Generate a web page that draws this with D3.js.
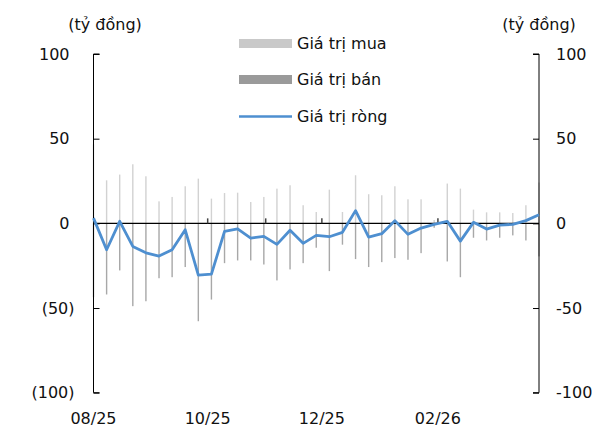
<!DOCTYPE html>
<html>
<head>
<meta charset="utf-8">
<script src="https://cdn.jsdelivr.net/npm/d3@7"></script>
<style>
  body { margin: 0; background: #fff; }
  text { font-family: "DejaVu Sans", Verdana, sans-serif; font-size: 16px; fill: #111; }
</style>
</head>
<body>
<div class="canvas"></div>
<script>
// weekly data, first week 01/08/2025
let startDate = '2025-08-01'
let weeks = 35

let buy = [46.7, 25.4, 28.8, 34.9, 27.8, 13.0, 15.6, 21.9, 26.4, 14.6, 17.9, 18.1, 12.6, 15.6, 20.5, 22.5, 10.7, 6.7,
    19.9, 6.7, 28.4, 17.2, 16.6, 21.9, 14.2, 14.2, 2.0, 23.5, 20.5, 8.1, 6.5, 6.5, 6.1, 10.7, 24.1]
let sell = [-43.6, -42.0, -27.8, -48.9, -46.0, -32.4, -31.8, -25.8, -57.8, -45.0, -23.5, -21.9, -21.9, -24.3, -33.7, -27.2, -23.5, -14.4,
    -28.2, -12.6, -21.1, -25.8, -22.9, -20.5, -21.5, -17.6, -2.6, -22.5, -31.8, -8.5, -10.1, -8.5, -7.1, -10.1, -19.5]
let net = [3.1, -15.6, 1.2, -13.6, -17.4, -19.3, -15.6, -3.8, -30.6, -30.0, -4.7, -3.2, -8.7, -7.7, -12.4, -4.1, -11.8, -7.1,
    -7.9, -5.3, 7.5, -8.1, -6.1, 1.6, -6.5, -2.8, -0.6, 1.2, -10.5, 0.6, -3.4, -1.0, -0.6, 1.6, 5.1]

let yTicks = [100, 50, 0, -50, -100]
let xLabelDates = ['2025-08-01', '2025-10-01', '2025-12-01', '2026-02-01']
let xTickDates = ['2025-10-01', '2025-11-01', '2025-12-01', '2026-02-01']
let unitLabel = '(tỷ đồng)'
let legendNames = ['Giá trị mua', 'Giá trị bán', 'Giá trị ròng']

let width = 594,
    height = 428,
    plotLeft = 93.5,
    plotRight = 539,
    plotTop = 54,
    plotBottom = 392.7

let parse = d3.timeParse('%Y-%m-%d')
let t0 = parse(startDate)
let dates = d3.range(weeks).map(i => d3.timeDay.offset(t0, i * 7))

let x = d3.scaleTime().domain([dates[0], dates[weeks - 1]]).range([plotLeft, plotRight])
let y = d3.scaleLinear().domain([-100, 100]).range([plotBottom, plotTop])

let svg = d3.select('.canvas').append('svg')
    .attr('width', width)
    .attr('height', height)

// BARS
let barW = 1.4
svg.selectAll('.buy')
    .data(dates)
    .enter().append('rect').classed('buy', true)
    .attr('x', (d) => x(d) - barW / 2)
    .attr('width', barW)
    .attr('y', (d, i) => y(buy[i]))
    .attr('height', (d, i) => y(0) - y(buy[i]))
    .attr('fill', '#d2d2d2')
svg.selectAll('.sell')
    .data(dates)
    .enter().append('rect').classed('sell', true)
    .attr('x', (d) => x(d) - barW / 2)
    .attr('width', barW)
    .attr('y', y(0))
    .attr('height', (d, i) => y(sell[i]) - y(0))
    .attr('fill', '#a8a8a8')

// ZERO LINE + month ticks
svg.append('line')
    .attr('x1', plotLeft).attr('x2', plotRight)
    .attr('y1', y(0)).attr('y2', y(0))
    .attr('stroke', '#000').attr('stroke-width', 1.2)
svg.selectAll('.mtick')
    .data(xTickDates.map(parse))
    .enter().append('line').classed('mtick', true)
    .attr('x1', d => x(d)).attr('x2', d => x(d))
    .attr('y1', y(0)).attr('y2', y(0) - 5)
    .attr('stroke', '#444').attr('stroke-width', 1.5)

// AXES
let fmtLeft = v => v < 0 ? `(${-v})` : `${v}`
let leftAxis = svg.append('g')
    .attr('transform', `translate(${plotLeft}, 0)`)
    .call(d3.axisRight(y).tickValues(yTicks).tickSize(6).tickFormat(''))
leftAxis.select('.domain').attr('d', `M6,${plotTop}H0V${plotBottom}H6`)
leftAxis.selectAll('line').attr('stroke', '#000')

let rightAxis = svg.append('g')
    .attr('transform', `translate(${plotRight}, 0)`)
    .call(d3.axisLeft(y).tickValues(yTicks).tickSize(6).tickFormat(''))
rightAxis.select('.domain').attr('d', `M-6,${plotTop}H0V${plotBottom}H-6`)
rightAxis.selectAll('line').attr('stroke', '#000')

svg.selectAll('.ylab-left')
    .data(yTicks)
    .enter().append('text').classed('ylab-left', true)
    .attr('x', d => d < 0 ? 74.5 : 69.5)
    .attr('y', d => y(d))
    .attr('dy', '0.36em')
    .attr('text-anchor', 'end')
    .text(fmtLeft)

svg.selectAll('.ylab-right')
    .data(yTicks)
    .enter().append('text').classed('ylab-right', true)
    .attr('x', 556)
    .attr('y', d => y(d))
    .attr('dy', '0.36em')
    .text(d => `${d}`)

svg.selectAll('.xlab')
    .data(xLabelDates.map(parse))
    .enter().append('text').classed('xlab', true)
    .attr('x', d => x(d))
    .attr('y', 418)
    .attr('dy', '0.36em')
    .attr('text-anchor', 'middle')
    .text(d3.timeFormat('%m/%y'))

svg.append('text')
    .attr('x', 105).attr('y', 24).attr('dy', '0.36em')
    .attr('text-anchor', 'middle')
    .text(unitLabel)
svg.append('text')
    .attr('x', 539).attr('y', 24).attr('dy', '0.36em')
    .attr('text-anchor', 'middle')
    .text(unitLabel)

// NET LINE
let line = d3.line()
    .x(d => x(d))
    .y((d, i) => y(net[i]))
svg.append('path')
    .datum(dates)
    .attr('d', line)
    .attr('fill', 'none')
    .attr('stroke', '#4e8fd0')
    .attr('stroke-width', 2.8)
    .attr('stroke-linejoin', 'round')

// LEGEND
let legY = [43.5, 79.5, 116.5]
let legend = svg.selectAll('.leg')
    .data(legendNames)
    .enter().append('g').classed('leg', true)
    .attr('transform', (d, i) => `translate(239, ${legY[i]})`)
legend.filter((d, i) => i < 2).append('rect')
    .attr('x', 0).attr('y', -4.5)
    .attr('width', 53).attr('height', 9)
    .attr('fill', (d, i) => i === 0 ? '#c9c9c9' : '#9a9a9a')
legend.filter((d, i) => i === 2).append('line')
    .attr('x1', 0).attr('x2', 53)
    .attr('stroke', '#4e8fd0').attr('stroke-width', 2.5)
legend.append('text')
    .attr('x', 58)
    .attr('dy', '0.36em')
    .text(d => d)
</script>
</body>
</html>
